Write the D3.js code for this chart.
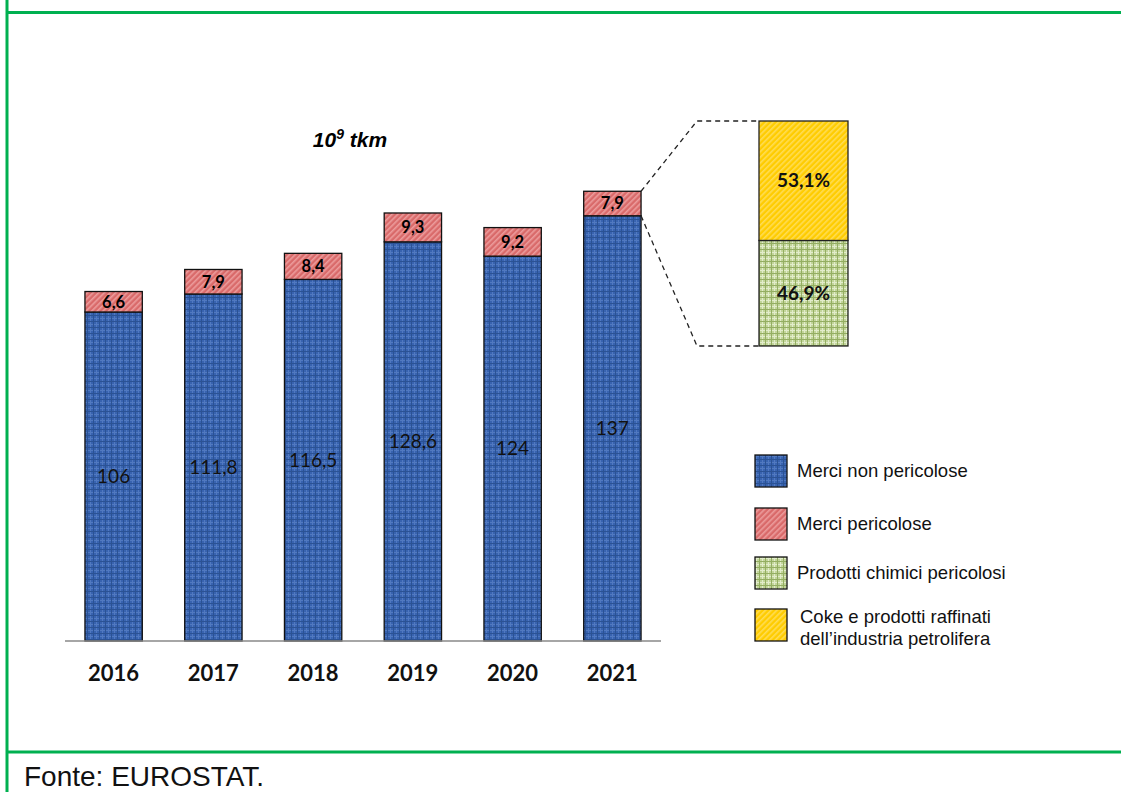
<!DOCTYPE html>
<html>
<head>
<meta charset="utf-8">
<script src="https://cdn.jsdelivr.net/npm/d3@7"></script>
<style>
  body { margin: 0; background: #fff; }
  svg { display: block; }
</style>
</head>
<body>
<div id="chart"></div>
<script>
var years = ["2016", "2017", "2018", "2019", "2020", "2021"];
var nonPericolose = [106, 111.8, 116.5, 128.6, 124, 137];
var pericolose = [6.6, 7.9, 8.4, 9.3, 9.2, 7.9];
var nonPericoloseLabels = ["106", "111,8", "116,5", "128,6", "124", "137"];
var pericoloseLabels = ["6,6", "7,9", "8,4", "9,3", "9,2", "7,9"];
var breakdownNames = ["Prodotti chimici pericolosi", "Coke e prodotti raffinati dell\u2019industria petrolifera"];
var breakdownValues = [46.9, 53.1];
var breakdownLabels = ["46,9%", "53,1%"];
var legendNames = ["Merci non pericolose", "Merci pericolose", "Prodotti chimici pericolosi",
                   ["Coke e prodotti raffinati", "dell\u2019industria petrolifera"]];

var width = 1121, height = 792;
var green = "#00B050";

var svg = d3.select("#chart").append("svg")
    .attr("width", width)
    .attr("height", height);

// fill patterns, like the office chart textures
var defs = svg.append("defs");

function plaid(id, base, light, dark) {
    var p = defs.append("pattern").attr("id", id)
        .attr("patternUnits", "userSpaceOnUse").attr("width", 6).attr("height", 6);
    p.append("rect").attr("width", 6).attr("height", 6).attr("fill", base);
    p.append("rect").attr("x", 0).attr("y", 0).attr("width", 6).attr("height", 1).attr("fill", light);
    p.append("rect").attr("x", 0).attr("y", 0).attr("width", 1).attr("height", 6).attr("fill", light);
    p.append("rect").attr("x", 3).attr("y", 0).attr("width", 1).attr("height", 6).attr("fill", dark);
    p.append("rect").attr("x", 0).attr("y", 3).attr("width", 6).attr("height", 1).attr("fill", dark);
}
function stripes(id, base, line) {
    var p = defs.append("pattern").attr("id", id)
        .attr("patternUnits", "userSpaceOnUse").attr("width", 4).attr("height", 4)
        .attr("patternTransform", "rotate(45)");
    p.append("rect").attr("width", 4).attr("height", 4).attr("fill", base);
    p.append("rect").attr("width", 1.6).attr("height", 4).attr("fill", line);
}
plaid("pBlue", "#3863B0", "#5179C0", "#2B5294");
stripes("pRed", "#D96A6A", "#EC9C9C");
plaid("pGreen", "#C2D59A", "#E2ECCB", "#94AE62");
stripes("pYellow", "#FFCC00", "#FFDD55");

// green frame lines
svg.append("line").attr("x1", 7).attr("x2", width).attr("y1", 12.5).attr("y2", 12.5)
    .attr("stroke", green).attr("stroke-width", 3);
svg.append("line").attr("x1", 7).attr("x2", width).attr("y1", 752).attr("y2", 752)
    .attr("stroke", green).attr("stroke-width", 3);
svg.append("line").attr("x1", 7).attr("x2", 7).attr("y1", 0).attr("y2", height)
    .attr("stroke", green).attr("stroke-width", 3);

var xScale = d3.scaleBand()
    .domain(years)
    .range([65, 661])
    .paddingInner(0.425)
    .paddingOuter(0.2);

var yScale = d3.scaleLinear()
    .domain([0, 160])
    .range([641, 144.4]);

// title
var title = svg.append("text")
    .attr("x", 350).attr("y", 147)
    .attr("text-anchor", "middle")
    .style("font-family", "Liberation Sans, Arial, sans-serif")
    .style("font-weight", "bold").style("font-style", "italic")
    .style("font-size", "21px");
title.append("tspan").text("10");
title.append("tspan").attr("dy", -8).style("font-size", "14px").text("9");
title.append("tspan").attr("dy", 8).text(" tkm");

var bars = svg.append("g").selectAll("g")
    .data(years)
    .enter().append("g");

bars.append("rect")
    .attr("x", d => xScale(d))
    .attr("width", xScale.bandwidth())
    .attr("y", (d, i) => yScale(nonPericolose[i]))
    .attr("height", (d, i) => yScale(0) - yScale(nonPericolose[i]))
    .attr("fill", "url(#pBlue)")
    .attr("stroke", "#111").attr("stroke-width", 1.3);

bars.append("rect")
    .attr("x", d => xScale(d))
    .attr("width", xScale.bandwidth())
    .attr("y", (d, i) => yScale(nonPericolose[i] + pericolose[i]))
    .attr("height", (d, i) => yScale(nonPericolose[i]) - yScale(nonPericolose[i] + pericolose[i]))
    .attr("fill", "url(#pRed)")
    .attr("stroke", "#111").attr("stroke-width", 1.3);

bars.append("text")
    .attr("x", d => xScale(d) + xScale.bandwidth() / 2)
    .attr("y", (d, i) => (yScale(nonPericolose[i]) + yScale(0)) / 2)
    .attr("dy", "0.35em")
    .attr("text-anchor", "middle")
    .style("font-family", "Lato, sans-serif")
    .style("font-size", "19px")
    .attr("fill", "#111")
    .text((d, i) => nonPericoloseLabels[i]);

bars.append("text")
    .attr("x", d => xScale(d) + xScale.bandwidth() / 2)
    .attr("y", (d, i) => (yScale(nonPericolose[i]) + yScale(nonPericolose[i] + pericolose[i])) / 2)
    .attr("dy", "0.36em")
    .attr("text-anchor", "middle")
    .style("font-family", "Lato, sans-serif")
    .style("font-weight", "bold")
    .style("font-size", "16.5px")
    .attr("fill", "#000")
    .text((d, i) => pericoloseLabels[i]);

// baseline and year labels
svg.append("line")
    .attr("x1", 65).attr("x2", 661)
    .attr("y1", yScale(0)).attr("y2", yScale(0))
    .attr("stroke", "#888").attr("stroke-width", 1.5);

svg.append("g").selectAll("text")
    .data(years)
    .enter().append("text")
    .attr("x", d => xScale(d) + xScale.bandwidth() / 2)
    .attr("y", 681)
    .attr("text-anchor", "middle")
    .style("font-family", "Lato, sans-serif")
    .style("font-weight", "bold")
    .style("font-size", "22px")
    .attr("fill", "#111")
    .text(d => d);

// breakdown of the 2021 dangerous goods
var last = years.length - 1;
var bx = 759, bw = 89;
var pctScale = d3.scaleLinear().domain([0, 100]).range([346, 121]);
var stackTop = [breakdownValues[0], breakdownValues[0] + breakdownValues[1]];
var stackBottom = [0, breakdownValues[0]];
var bFills = ["url(#pGreen)", "url(#pYellow)"];

svg.append("g").selectAll("rect")
    .data(breakdownValues)
    .enter().append("rect")
    .attr("x", bx).attr("width", bw)
    .attr("y", (d, i) => pctScale(stackTop[i]))
    .attr("height", (d, i) => pctScale(stackBottom[i]) - pctScale(stackTop[i]))
    .attr("fill", (d, i) => bFills[i])
    .attr("stroke", "#222").attr("stroke-width", 1.3);

svg.append("g").selectAll("text")
    .data(breakdownValues)
    .enter().append("text")
    .attr("x", bx + bw / 2)
    .attr("y", (d, i) => (pctScale(stackTop[i]) + pctScale(stackBottom[i])) / 2)
    .attr("dy", "0.35em")
    .attr("text-anchor", "middle")
    .style("font-family", "Lato, sans-serif")
    .style("font-weight", "bold")
    .style("font-size", "19px")
    .attr("fill", "#111")
    .text((d, i) => breakdownLabels[i]);

var barRight = xScale(years[last]) + xScale.bandwidth();
var dash = svg.append("g")
    .attr("fill", "none").attr("stroke", "#222")
    .attr("stroke-width", 1.3).attr("stroke-dasharray", "5,4");
dash.append("path")
    .attr("d", d3.line()([[barRight, yScale(nonPericolose[last] + pericolose[last])], [697, pctScale(100)], [bx, pctScale(100)]]));
dash.append("path")
    .attr("d", d3.line()([[barRight, yScale(nonPericolose[last])], [697, pctScale(0)], [bx, pctScale(0)]]));

// legend
var legendFills = ["url(#pBlue)", "url(#pRed)", "url(#pGreen)", "url(#pYellow)"];
var legendY = [455, 508, 557, 609];
var legend = svg.append("g").attr("class", "legend");

legend.selectAll("rect")
    .data(legendNames)
    .enter().append("rect")
    .attr("x", 755).attr("y", (d, i) => legendY[i])
    .attr("width", 32).attr("height", 32)
    .attr("fill", (d, i) => legendFills[i])
    .attr("stroke", "#111").attr("stroke-width", 1.3);

legend.selectAll("text")
    .data(legendNames)
    .enter().append("text")
    .attr("x", (d, i) => i === 3 ? 800 : 797)
    .attr("y", (d, i) => i === 3 ? legendY[i] + 14 : legendY[i] + 22)
    .style("font-family", "Liberation Sans, Arial, sans-serif")
    .style("font-size", "18.5px")
    .attr("fill", "#111")
    .each(function(d) {
        var t = d3.select(this);
        if (Array.isArray(d)) {
            t.append("tspan").text(d[0]);
            t.append("tspan").attr("x", 800).attr("dy", 22).text(d[1]);
        } else {
            t.text(d);
        }
    });

// source
svg.append("text")
    .attr("x", 24).attr("y", 786)
    .style("font-family", "Liberation Sans, Arial, sans-serif")
    .style("font-size", "28px")
    .attr("fill", "#111")
    .text("Fonte: EUROSTAT.");
</script>
</body>
</html>
